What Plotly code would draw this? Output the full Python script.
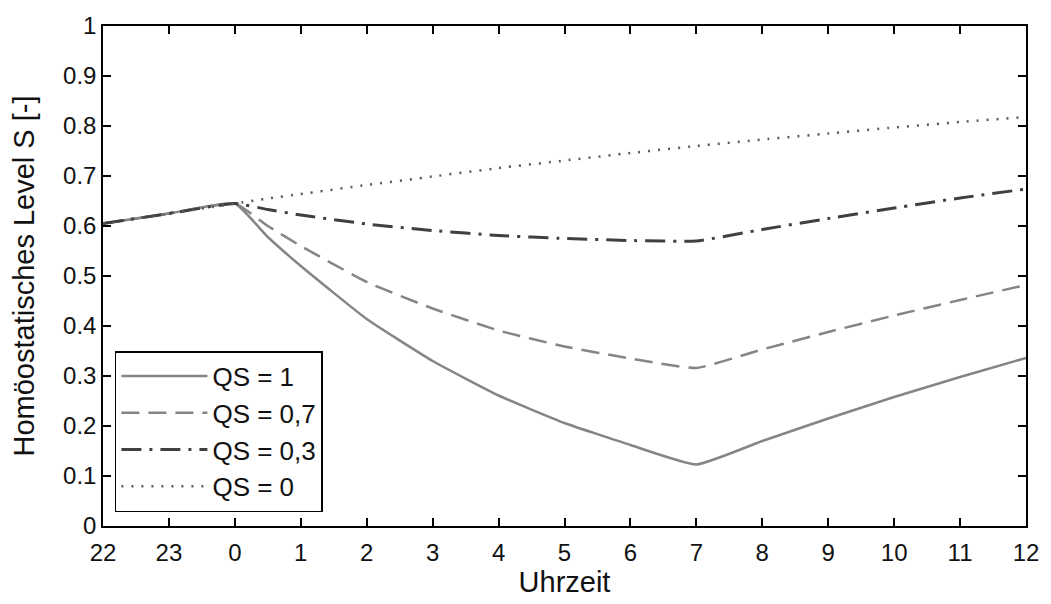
import plotly.graph_objects as go

# Hours relative to midnight (-2 = 22 Uhr ... 12 = 12 Uhr)
hours = [-2, -1, 0, 0.5, 1, 2, 3, 4, 5, 6, 7, 8, 9, 10, 11, 12]
tick_vals = [-2, -1, 0, 1, 2, 3, 4, 5, 6, 7, 8, 9, 10, 11, 12]
tick_text = ["22", "23", "0", "1", "2", "3", "4", "5", "6", "7", "8", "9", "10", "11", "12"]
y_ticks = [0, 0.1, 0.2, 0.3, 0.4, 0.5, 0.6, 0.7, 0.8, 0.9, 1]

s_qs1 = [0.605, 0.625, 0.645, 0.578, 0.520, 0.414, 0.330, 0.261, 0.206, 0.162, 0.123,
         0.170, 0.215, 0.258, 0.298, 0.336]
s_qs07 = [0.605, 0.625, 0.645, 0.600, 0.560, 0.488, 0.435, 0.391, 0.359, 0.335, 0.316,
          0.353, 0.388, 0.421, 0.452, 0.482]
s_qs03 = [0.605, 0.625, 0.645, 0.633, 0.622, 0.604, 0.591, 0.581, 0.575, 0.571, 0.570,
          0.593, 0.615, 0.636, 0.656, 0.674]
s_qs0 = [0.605, 0.625, 0.645, 0.655, 0.664, 0.682, 0.699, 0.716, 0.731, 0.746, 0.760,
         0.773, 0.785, 0.797, 0.808, 0.818]

series = [
    ("QS = 1", s_qs1, "#858585", 2.5, "solid"),
    ("QS = 0,7", s_qs07, "#858585", 2.5, "18px,9px"),
    ("QS = 0,3", s_qs03, "#404040", 3, "20px,8px,3px,8px"),
    ("QS = 0", s_qs0, "#5a5a5a", 2.5, "2px,8px"),
]

fig = go.Figure()
for name, vals, color, width, dash in series:
    fig.add_trace(go.Scatter(
        x=hours, y=vals, mode="lines", name=name,
        line=dict(color=color, width=width, dash=dash, shape="spline", smoothing=0.4),
    ))

font_family = "Liberation Sans, Arial, sans-serif"
fig.update_layout(
    width=1051, height=604,
    margin=dict(l=103, r=18, t=22, b=76),
    paper_bgcolor="white", plot_bgcolor="white",
    font=dict(family=font_family, size=24, color="#111111"),
    showlegend=True,
    legend=dict(
        x=0.0129, y=0.028, xanchor="left", yanchor="bottom",
        bordercolor="black", borderwidth=1.5, bgcolor="white",
        font=dict(size=26), tracegroupgap=0, itemwidth=86,
    ),
    xaxis=dict(
        range=[-2, 12], tickmode="array", tickvals=tick_vals, ticktext=tick_text,
        showgrid=False, zeroline=False, showline=True, linecolor="black", linewidth=1.5,
        mirror="ticks", ticks="inside", ticklen=8, tickcolor="black", tickwidth=1.5,
        ticklabelstandoff=4,
        title=dict(text="Uhrzeit", standoff=6),
    ),
    yaxis=dict(
        range=[0, 1], tickmode="array", tickvals=y_ticks,
        showgrid=False, zeroline=False, showline=True, linecolor="black", linewidth=1.5,
        mirror="ticks", ticks="inside", ticklen=8, tickcolor="black", tickwidth=1.5,
        title=dict(text="Homöostatisches Level S [-]", standoff=20),
    ),
)

fig.write_html("out.html")
